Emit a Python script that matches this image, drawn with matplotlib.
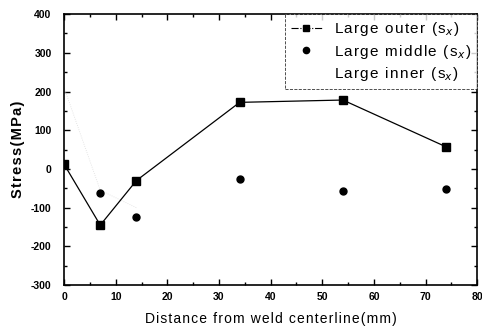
import matplotlib
matplotlib.use("Agg")
import matplotlib.pyplot as plt
from matplotlib.ticker import MultipleLocator
from matplotlib.lines import Line2D

plt.rcParams['font.family'] = ['Liberation Sans', 'DejaVu Sans']

x = [0, 7, 14, 34, 54, 74]
outer = [12, -145, -30, 172, 178, 57]
middle_x = [7, 14, 34, 54, 74]
middle = [-63, -123, -25, -57, -52]
inner_x = [0, 7, 14]
inner = [210, -55, -100]

series_names = ['Large outer', 'Large middle', 'Large inner']

xticks = [0, 10, 20, 30, 40, 50, 60, 70, 80]
yticks = [-300, -200, -100, 0, 100, 200, 300, 400]
ytick_labels = ['-300', '-200', '-100', '0', '100', '200', '300', '400']

fig = plt.figure(figsize=(4.82, 3.27), dpi=100)
ax = fig.add_axes([0.133, 0.128, 0.857, 0.829])

ax.plot(inner_x, inner, color='#dddddd', lw=0.6, ls=':')
ax.plot(x, outer, color='black', lw=0.9, marker='s', ms=5.5)
ax.plot(middle_x, middle, ls='none', color='black', marker='o', ms=5)

ax.set_xlim(0, 80)
ax.set_ylim(-300, 400)
ax.set_xticks(xticks)
ax.set_yticks(yticks)
ax.set_yticklabels(ytick_labels)
ax.xaxis.set_minor_locator(MultipleLocator(5))
ax.yaxis.set_minor_locator(MultipleLocator(50))
ax.tick_params(which='both', direction='in', top=True, right=True, labelsize=7.5, width=1.0)
ax.tick_params(which='major', length=4)
ax.tick_params(axis='y', which='major', pad=9)
ax.tick_params(axis='x', which='major', pad=5)
ax.tick_params(which='minor', length=2.5)
for lab in ax.get_xticklabels() + ax.get_yticklabels():
    lab.set_fontweight('bold')
for s in ax.spines.values():
    s.set_linewidth(1.2)

hs = '\u200a'
ax.set_xlabel(hs.join('Distance from weld centerline(mm)'), fontsize=10, labelpad=7)
ax.set_ylabel(hs.join('Stress(MPa)'), fontsize=10.5, fontweight='bold', labelpad=4)

handles = [
    Line2D([], [], color='black', lw=0.8, ls='-.', marker='s', ms=5),
    Line2D([], [], color='black', ls='none', marker='o', ms=4.5),
    Line2D([], [], color='none', ls='none'),
]
labels = [hs.join(n + ' (s') + '$_{x}$' + hs + ')' for n in series_names]
leg = ax.legend(handles, labels, loc='upper right', fontsize=11, frameon=True,
                fancybox=False, edgecolor='black', borderaxespad=0.0,
                handlelength=2.0, handletextpad=0.8, labelspacing=0.3, borderpad=0.4)
leg.get_frame().set_linewidth(0.6)
leg.get_frame().set_linestyle('--')

fig.savefig('out.png', dpi=100)
